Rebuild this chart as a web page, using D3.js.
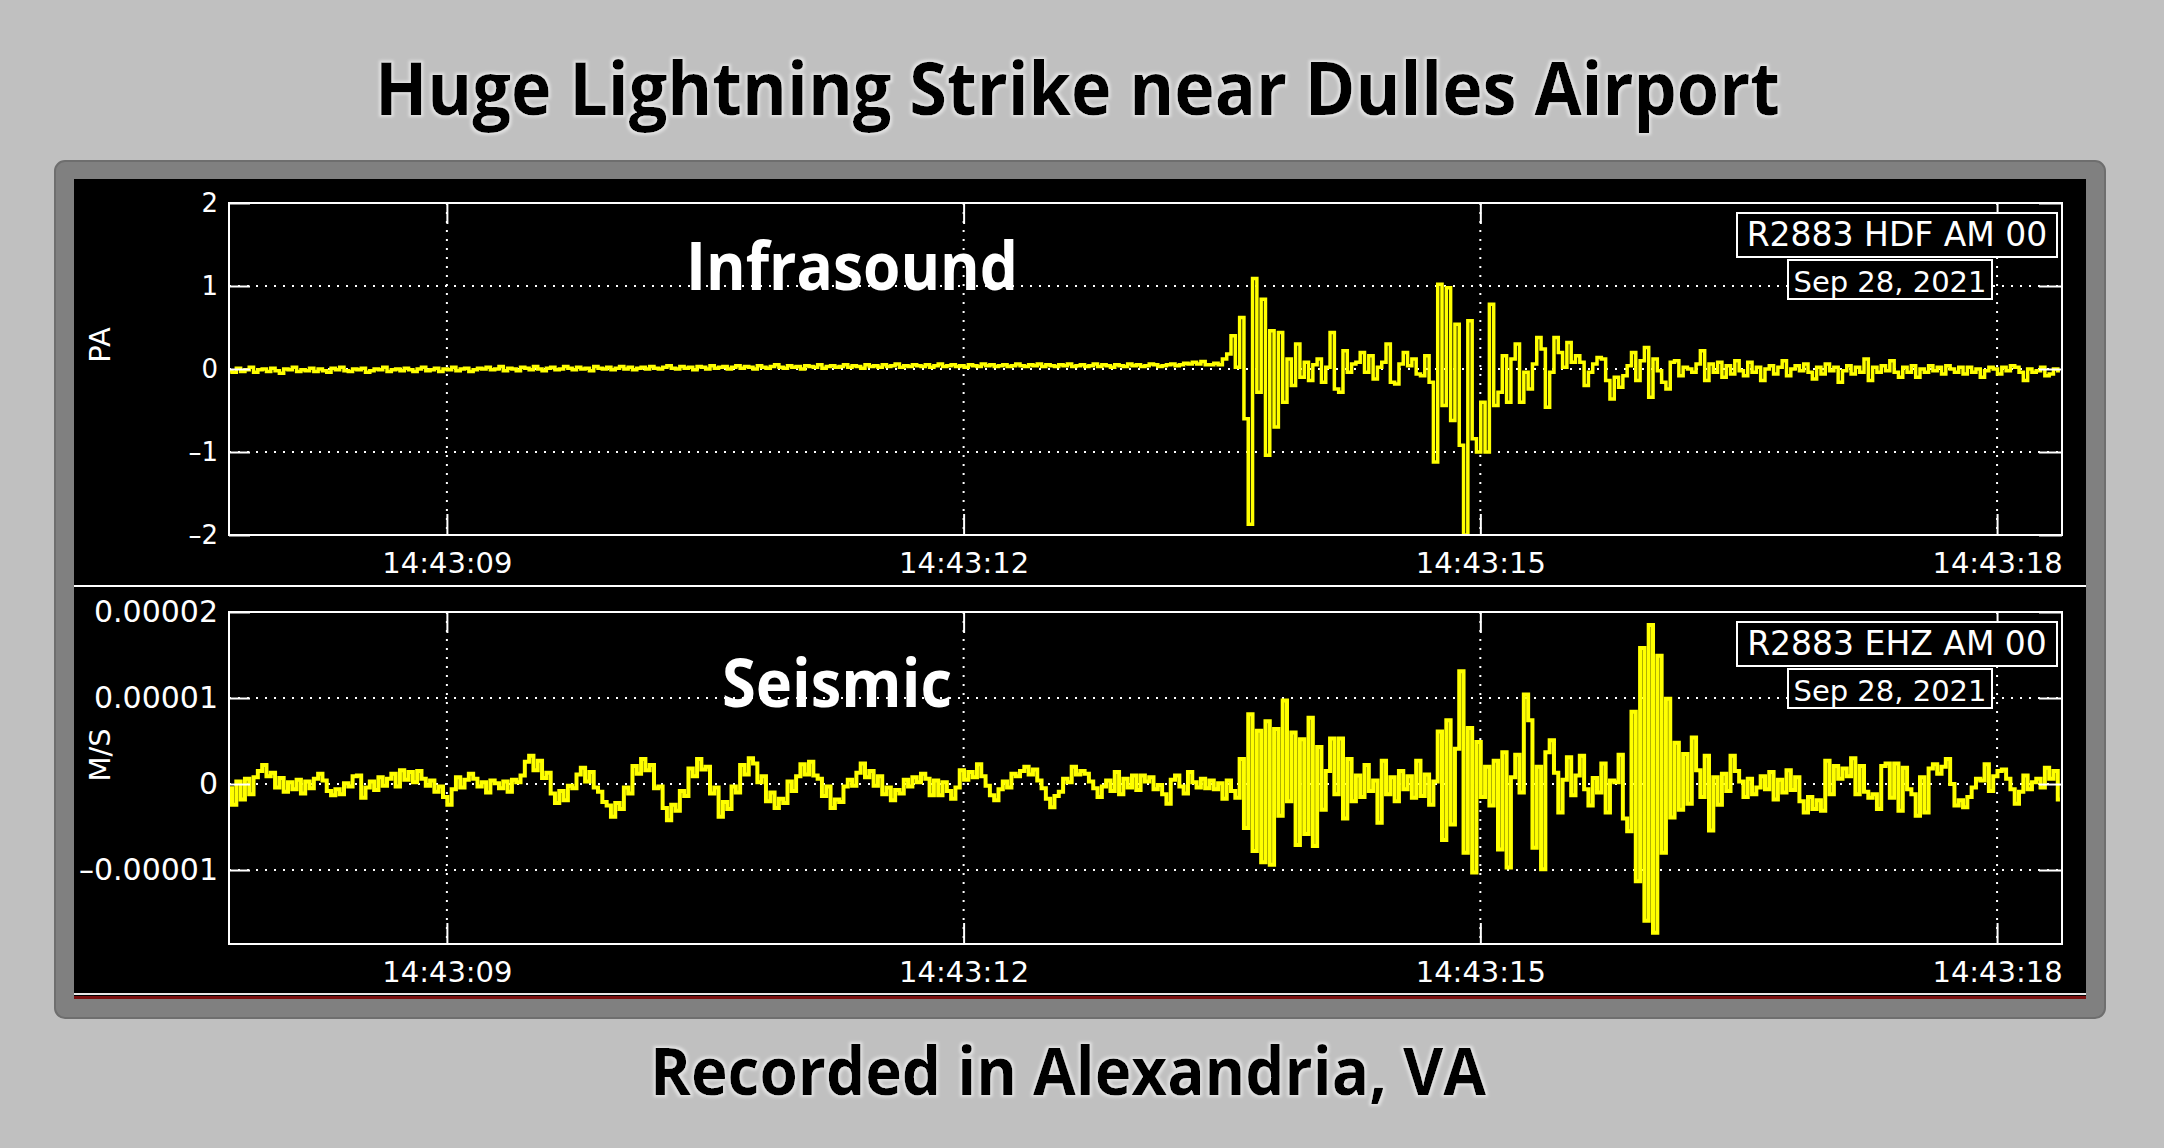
<!DOCTYPE html>
<html><head><meta charset="utf-8">
<script src="https://cdn.jsdelivr.net/npm/d3@7"></script>
<style>
html,body{margin:0;padding:0;background:#c0c0c0;}
svg{display:block;}
</style></head><body>
<svg id="chart" width="2164" height="1148"></svg>
<script>
// ---------- data ----------
const sampleStart = 7.74;   // seconds after 14:43:00 of first sample
const sampleStep = 0.025;   // seconds between samples
const timeDomain = [7.735, 18.377];
const timeTicks = [9, 12, 15, 18];
const timeTickLabels = ["14:43:09", "14:43:12", "14:43:15", "14:43:18"];

const infraTicks = [2, 1, 0, -1, -2];
const infraTickLabels = ["2", "1", "0", "\u20131", "\u20132"];
const infraGrid = [1, 0, -1];
const infraDomain = [-2, 2];

const seisUnit = 1e-6;
const seisTicks = [0.00002, 0.00001, 0, -0.00001];
const seisTickLabels = ["0.00002", "0.00001", "0", "\u20130.00001"];
const seisGrid = [0.00002, 0.00001, 0, -0.00001];
const seisDomain = [-0.0000186, 0.00002];

// infrasound pressure, Pa
const infraValues = [
-0.02,-0.04,0.01,-0.03,-0.01,0.02,-0.04,-0.01,0.0,-0.03,
0.01,-0.02,-0.05,0.0,-0.01,0.02,-0.03,-0.01,-0.02,0.01,
-0.03,0.0,-0.02,-0.04,0.01,-0.01,0.02,-0.02,-0.03,0.0,
-0.01,0.01,-0.04,-0.02,0.0,-0.01,0.02,-0.03,-0.01,0.0,
-0.02,0.01,-0.01,-0.03,0.0,0.02,-0.02,-0.01,0.01,-0.03,
0.0,-0.01,0.02,-0.02,0.0,0.01,-0.03,-0.01,0.01,0.0,
0.02,-0.01,0.0,0.03,-0.02,0.01,0.0,-0.02,0.02,0.01,
-0.01,0.03,0.0,-0.02,0.01,0.02,-0.01,0.0,0.03,0.01,
-0.01,0.02,0.0,0.01,-0.02,0.03,0.01,0.0,0.02,-0.01,
0.01,0.03,0.0,0.02,-0.01,0.01,0.02,0.0,0.03,0.01,
0.0,0.02,0.04,0.01,0.0,0.03,0.01,0.02,-0.01,0.03,
0.02,0.0,0.04,0.01,0.02,0.03,0.0,0.02,0.04,0.01,
0.03,0.02,0.0,0.04,0.02,0.01,0.03,0.05,0.02,0.01,
0.04,0.02,0.03,0.0,0.04,0.03,0.02,0.05,0.01,0.03,
0.04,0.02,0.03,0.05,0.02,0.04,0.03,0.01,0.05,0.03,
0.04,0.02,0.05,0.03,0.04,0.06,0.02,0.04,0.03,0.05,
0.04,0.03,0.05,0.02,0.04,0.06,0.03,0.04,0.05,0.03,
0.04,0.02,0.05,0.04,0.03,0.06,0.04,0.05,0.03,0.04,
0.05,0.03,0.04,0.06,0.04,0.03,0.05,0.04,0.06,0.03,
0.05,0.04,0.03,0.05,0.04,0.06,0.03,0.04,0.05,0.03,
0.04,0.06,0.03,0.05,0.04,0.02,0.05,0.04,0.03,0.06,
0.04,0.05,0.03,0.04,0.06,0.05,0.03,0.04,0.05,0.06,
0.04,0.05,0.07,0.06,0.08,0.06,0.09,0.05,0.05,0.07,
0.05,0.12,0.18,0.40,0.02,0.62,-0.60,-1.87,1.09,-0.28,
0.84,-1.04,0.46,-0.70,0.44,-0.40,0.12,-0.20,0.30,-0.10,
0.08,-0.14,0.05,0.12,-0.16,0.02,0.44,-0.24,-0.28,0.22,
-0.04,0.06,0.08,0.20,-0.04,0.16,-0.12,0.02,0.08,0.30,
-0.16,-0.18,0.06,0.20,0.04,0.12,-0.06,-0.08,0.16,-0.16,
-1.12,1.02,-0.44,0.98,-0.62,0.54,-0.92,-2.0,0.58,-0.84,
-1.0,-0.40,-1.0,0.78,-0.44,-0.28,0.16,-0.40,0.12,0.30,
-0.40,-0.04,-0.24,0.06,0.38,0.24,-0.46,-0.04,0.38,0.20,
0.02,0.32,0.08,0.16,0.08,-0.20,-0.04,0.06,0.14,0.12,
-0.14,-0.36,-0.10,-0.22,-0.08,0.04,0.20,-0.14,0.10,0.26,
-0.34,0.12,-0.02,-0.16,-0.24,0.08,0.10,-0.08,0.02,0.0,
-0.04,0.06,0.22,-0.14,0.06,-0.04,0.08,-0.10,0.04,-0.06,
0.10,-0.02,-0.08,0.08,-0.04,0.02,-0.14,0.0,0.04,-0.06,
0.02,0.10,-0.08,0.0,0.04,-0.02,0.06,-0.04,-0.12,0.02,
-0.06,0.06,-0.02,0.02,-0.16,-0.02,0.04,-0.06,0.02,-0.04,
0.12,-0.14,0.02,-0.04,0.04,-0.02,0.10,-0.04,-0.10,0.02,
-0.04,0.04,-0.10,0.0,-0.04,0.04,-0.02,0.02,-0.06,0.04,
0.0,-0.04,0.02,-0.06,0.02,-0.04,0.0,-0.10,-0.02,0.02,
0.0,-0.06,0.02,-0.02,0.04,0.02,-0.04,-0.14,0.0,-0.04,
-0.02,0.02,-0.08,-0.06,0.0,-0.02
];

// seismic ground velocity, in units of 1e-6 m/s
const seisValues = [
-0.5,-2.4,0.3,-1.8,0.6,-1.2,0.8,1.5,2.2,0.9,
1.3,-0.4,0.7,-0.9,0.2,-0.6,0.5,-1.1,0.3,-0.5,
0.6,1.2,0.4,-0.8,-1.3,-0.6,-1.2,0.1,-0.3,0.9,
1.0,-1.6,-0.4,0.3,-0.7,0.8,-0.2,0.6,1.2,-0.3,
1.6,0.5,1.4,0.2,1.5,0.6,-0.2,0.4,-0.9,-0.3,
-1.5,-2.4,-0.6,0.8,-0.4,0.5,1.2,0.6,-0.3,0.2,
-1.0,0.4,0.1,-0.5,0.3,-0.9,0.5,0.2,1.0,2.6,
3.3,1.6,2.7,0.7,1.3,-1.1,-2.2,-0.8,-1.9,-0.2,
-0.5,1.1,1.9,0.3,1.4,-0.4,-0.9,-2.1,-2.5,-3.8,
-2.2,-2.9,-0.4,-1.1,2.1,1.2,2.9,1.6,2.2,-0.5,
-0.3,-2.8,-4.2,-2.4,-3.1,-0.8,-1.4,1.8,0.9,2.9,
1.7,2.0,-1.1,-0.4,-3.8,-2.1,-2.9,-0.3,-1.0,2.2,
1.1,3.0,2.4,0.2,0.9,-2.0,-1.0,-2.8,-1.7,-2.2,
0.3,-0.8,0.9,2.3,1.1,2.6,1.0,0.6,-1.4,-0.3,
-2.8,-1.8,-2.1,-0.3,0.5,-0.2,1.3,2.4,0.8,1.5,
-0.2,0.9,-1.2,-0.4,-1.9,-0.7,-1.1,0.5,-0.3,0.8,
0.2,1.2,0.6,-1.3,0.4,-1.3,0.2,-0.8,-1.7,-0.4,
1.6,0.5,1.4,0.8,2.3,0.9,-0.2,-1.3,-1.9,-0.6,
0.3,-0.4,1.2,0.9,1.5,2.0,1.1,1.7,0.4,-0.5,
-1.7,-2.7,-1.4,-0.9,0.6,0.2,2.0,1.1,1.5,1.2,
0.3,-0.5,-1.5,-0.3,0.4,-0.8,1.4,-1.2,0.6,-0.4,
1.0,-0.7,1.0,0.3,0.8,-0.6,-0.1,-1.2,-2.3,0.5,
1.0,-0.3,-1.1,1.4,0.2,-0.4,0.6,-0.5,0.4,-0.6,
0.1,-1.7,0.4,-0.8,-1.6,2.9,-5.1,8.1,-7.8,6.2,
-9.1,7.3,-9.4,6.4,-3.7,9.7,-2.0,6.0,-7.1,5.2,
-5.8,7.7,-7.2,4.3,-3.0,1.5,5.3,-1.2,5.3,-4.0,
2.9,-2.0,1.0,-1.5,2.2,-0.8,0.4,-4.5,2.7,-1.2,
0.8,-2.0,1.5,-0.6,0.9,-1.6,2.7,-1.4,1.1,-2.4,
0.3,6.1,-6.5,7.4,-4.7,4.1,13.1,-8.0,6.5,-10.3,
4.9,-1.5,2.0,-2.5,2.7,-7.6,3.7,-9.7,0.8,3.4,
-1.0,10.4,7.4,-7.4,2.0,-9.9,3.7,5.1,1.3,-3.3,
0.5,3.1,-1.3,1.0,3.3,-0.6,-2.5,0.7,-1.0,2.4,
-3.3,0.4,0.2,3.4,-4.0,-5.5,8.4,-11.3,15.8,-15.9,
18.5,-17.3,14.9,-8.0,9.9,-3.9,4.8,-3.0,3.5,-2.3,
5.4,1.6,-1.5,3.3,-5.4,0.8,-2.4,1.2,-0.8,3.3,
1.5,0.3,-1.5,0.6,-1.2,-0.4,0.9,-0.6,1.4,-1.8,
0.5,-1.0,1.6,-0.7,0.8,-2.0,-3.3,-1.5,-2.9,-1.9,
-3.1,2.7,-1.2,2.1,0.6,1.8,0.9,3.0,-1.2,2.1,
-0.9,-1.6,-1.2,-2.9,2.1,2.4,-1.6,2.4,-3.1,1.9,
-0.6,-1.2,-3.7,0.8,-3.3,1.8,2.3,1.2,2.0,2.9,
0.0,-2.5,-1.9,-2.7,-1.5,-0.4,0.6,0.4,2.3,-0.8,
0.9,1.5,1.7,0.6,-0.6,-2.3,-0.9,1.0,-0.6,0.2,
0.6,-0.4,1.9,0.6,1.5,-1.8
];

const titleText = "Huge Lightning Strike near Dulles Airport";
const subtitleText = "Recorded in Alexandria, VA";
const stationLabels = ["R2883 HDF AM 00", "R2883 EHZ AM 00"];
const dateLabel = "Sep 28, 2021";
const unitLabels = ["PA", "M/S"];
const panelNames = ["Infrasound", "Seismic"];

// ---------- drawing ----------
const svg = d3.select("#chart");
const W = 2164, H = 1148;
const SMALL_FONT = "'DejaVu Sans', sans-serif";
const BIG_FONT = "'Open Sans', 'Noto Sans', sans-serif";

const defs = svg.append("defs");
const glow = defs.append("filter").attr("id", "glow").attr("x", "-5%").attr("y", "-20%").attr("width", "110%").attr("height", "140%");
glow.append("feMorphology").attr("in", "SourceAlpha").attr("operator", "dilate").attr("radius", 1.5).attr("result", "d");
glow.append("feGaussianBlur").attr("in", "d").attr("stdDeviation", 1.5).attr("result", "b");
glow.append("feFlood").attr("flood-color", "#ffffff").attr("flood-opacity", 0.55).attr("result", "f");
glow.append("feComposite").attr("in", "f").attr("in2", "b").attr("operator", "in").attr("result", "g");
const gm = glow.append("feMerge");
gm.append("feMergeNode").attr("in", "g");
gm.append("feMergeNode").attr("in", "SourceGraphic");

svg.append("rect").attr("width", W).attr("height", H).attr("fill", "#c0c0c0");

// title
svg.append("text").attr("x", 375).attr("y", 115)
  .attr("textLength", 1405).attr("lengthAdjust", "spacingAndGlyphs")
  .attr("font-family", BIG_FONT).attr("font-weight", 700).attr("font-size", 74)
  .attr("fill", "#000").attr("filter", "url(#glow)").text(titleText);

// outer panel
svg.append("rect").attr("x", 55).attr("y", 161).attr("width", 2050).attr("height", 857)
  .attr("rx", 10).attr("fill", "#808080").attr("stroke", "#6e6e6e").attr("stroke-width", 2);
svg.append("rect").attr("x", 74).attr("y", 179).attr("width", 2012).attr("height", 820).attr("fill", "#000");
svg.append("line").attr("x1", 74).attr("x2", 2086).attr("y1", 994).attr("y2", 994).attr("stroke", "#e8e8e8").attr("stroke-width", 2);
svg.append("line").attr("x1", 74).attr("x2", 2086).attr("y1", 997.5).attr("y2", 997.5).attr("stroke", "#7a1010").attr("stroke-width", 3);
svg.append("line").attr("x1", 74).attr("x2", 2086).attr("y1", 586).attr("y2", 586).attr("stroke", "#fff").attr("stroke-width", 2);

// subtitle
svg.append("text").attr("x", 650).attr("y", 1095)
  .attr("textLength", 836).attr("lengthAdjust", "spacingAndGlyphs")
  .attr("font-family", BIG_FONT).attr("font-weight", 700).attr("font-size", 67)
  .attr("fill", "#000").attr("filter", "url(#glow)").text(subtitleText);

const x = d3.scaleLinear().domain(timeDomain).range([229, 2062]);

function drawPanel(cfg) {
  const y = d3.scaleLinear().domain(cfg.domain).range([cfg.bottom, cfg.top]);
  const g = svg.append("g");
  const x0 = x.range()[0], x1 = x.range()[1];

  const clipId = "clip" + cfg.idx;
  defs.append("clipPath").attr("id", clipId).append("rect")
    .attr("x", x0).attr("y", cfg.top).attr("width", x1 - x0).attr("height", cfg.bottom - cfg.top);

  // dotted grid
  g.append("g").selectAll("line").data(cfg.grid).join("line")
    .attr("x1", x0).attr("x2", x1).attr("y1", d => y(d)).attr("y2", d => y(d))
    .attr("stroke", "#fff").attr("stroke-width", 2).attr("stroke-dasharray", "2,7");
  g.append("g").selectAll("line").data(timeTicks).join("line")
    .attr("x1", d => x(d)).attr("x2", d => x(d)).attr("y1", cfg.top).attr("y2", cfg.bottom)
    .attr("stroke", "#fff").attr("stroke-width", 2).attr("stroke-dasharray", "2,7");

  // trace
  const line = d3.line()
    .x((d, i) => x(sampleStart + i * sampleStep))
    .y(d => y(d * cfg.unit))
    .curve(d3.curveStep);
  g.append("path").datum(cfg.values).attr("d", line)
    .attr("fill", "none").attr("stroke", "#ffff00").attr("stroke-width", cfg.stroke)
    .attr("stroke-linejoin", "miter").attr("clip-path", `url(#${clipId})`);

  // frame
  g.append("rect").attr("x", x0).attr("y", cfg.top).attr("width", x1 - x0).attr("height", cfg.bottom - cfg.top)
    .attr("fill", "none").attr("stroke", "#fff").attr("stroke-width", 2);

  const styleAxis = (sel, fs) => {
    sel.select(".domain").remove();
    sel.selectAll(".tick line").attr("stroke", "#fff").attr("stroke-width", 2);
    sel.selectAll(".tick text").attr("fill", "#fff").attr("font-family", SMALL_FONT).attr("font-size", fs);
  };

  // left axis with labels
  const left = g.append("g").attr("transform", `translate(${x0},0)`)
    .call(d3.axisLeft(y).tickValues(cfg.ticks).tickSize(-21).tickPadding(11)
      .tickFormat((d, i) => cfg.tickLabels[i]));
  styleAxis(left, cfg.yFont);
  // right axis ticks
  const right = g.append("g").attr("transform", `translate(${x1},0)`)
    .call(d3.axisRight(y).tickValues(cfg.ticks).tickSize(-23).tickFormat(""));
  styleAxis(right, cfg.yFont);
  // bottom axis with time labels
  const bottom = g.append("g").attr("transform", `translate(0,${cfg.bottom})`)
    .call(d3.axisBottom(x).tickValues(timeTicks).tickSize(-21).tickPadding(17)
      .tickFormat((d, i) => timeTickLabels[i]));
  styleAxis(bottom, 29);
  // top axis ticks
  const top = g.append("g").attr("transform", `translate(0,${cfg.top})`)
    .call(d3.axisTop(x).tickValues(timeTicks).tickSize(-21).tickFormat(""));
  styleAxis(top, 29);

  // unit label
  g.append("text").attr("transform", `translate(110,${cfg.unitY}) rotate(-90)`)
    .attr("text-anchor", "middle").attr("font-family", SMALL_FONT).attr("font-size", 29)
    .attr("fill", "#fff").text(cfg.unitLabel);

  // station / date boxes
  const bx = 1737, bw = 320, bh = 44, by = cfg.top + 10;
  g.append("rect").attr("x", bx).attr("y", by).attr("width", bw).attr("height", bh)
    .attr("fill", "#000").attr("stroke", "#fff").attr("stroke-width", 2);
  g.append("text").attr("x", bx + bw / 2).attr("y", by + 33).attr("text-anchor", "middle")
    .attr("font-family", SMALL_FONT).attr("font-size", 33).attr("fill", "#fff").text(cfg.station);
  const dx = 1788, dw = 204, dh = 39, dy = by + bh + 3;
  g.append("rect").attr("x", dx).attr("y", dy).attr("width", dw).attr("height", dh)
    .attr("fill", "#000").attr("stroke", "#fff").attr("stroke-width", 2);
  g.append("text").attr("x", dx + dw / 2).attr("y", dy + 32).attr("text-anchor", "middle")
    .attr("font-family", SMALL_FONT).attr("font-size", 29).attr("fill", "#fff").text(dateLabel);

  // panel name
  g.append("text").attr("x", cfg.nameX).attr("y", cfg.nameY)
    .attr("textLength", cfg.nameW).attr("lengthAdjust", "spacingAndGlyphs")
    .attr("font-family", BIG_FONT).attr("font-weight", 700).attr("font-size", 66)
    .attr("fill", "#fff").text(cfg.name);
}

drawPanel({
  idx: 0, top: 203, bottom: 535, domain: infraDomain, unit: 1, stroke: 3.5,
  values: infraValues, ticks: infraTicks, tickLabels: infraTickLabels, grid: infraGrid,
  yFont: 26, unitLabel: unitLabels[0], unitY: 345, station: stationLabels[0],
  name: panelNames[0], nameX: 686, nameY: 290, nameW: 332
});
drawPanel({
  idx: 1, top: 612, bottom: 944, domain: seisDomain, unit: seisUnit, stroke: 4,
  values: seisValues, ticks: seisTicks, tickLabels: seisTickLabels, grid: seisGrid,
  yFont: 30, unitLabel: unitLabels[1], unitY: 755, station: stationLabels[1],
  name: panelNames[1], nameX: 722, nameY: 707, nameW: 230
});
</script>
</body></html>
